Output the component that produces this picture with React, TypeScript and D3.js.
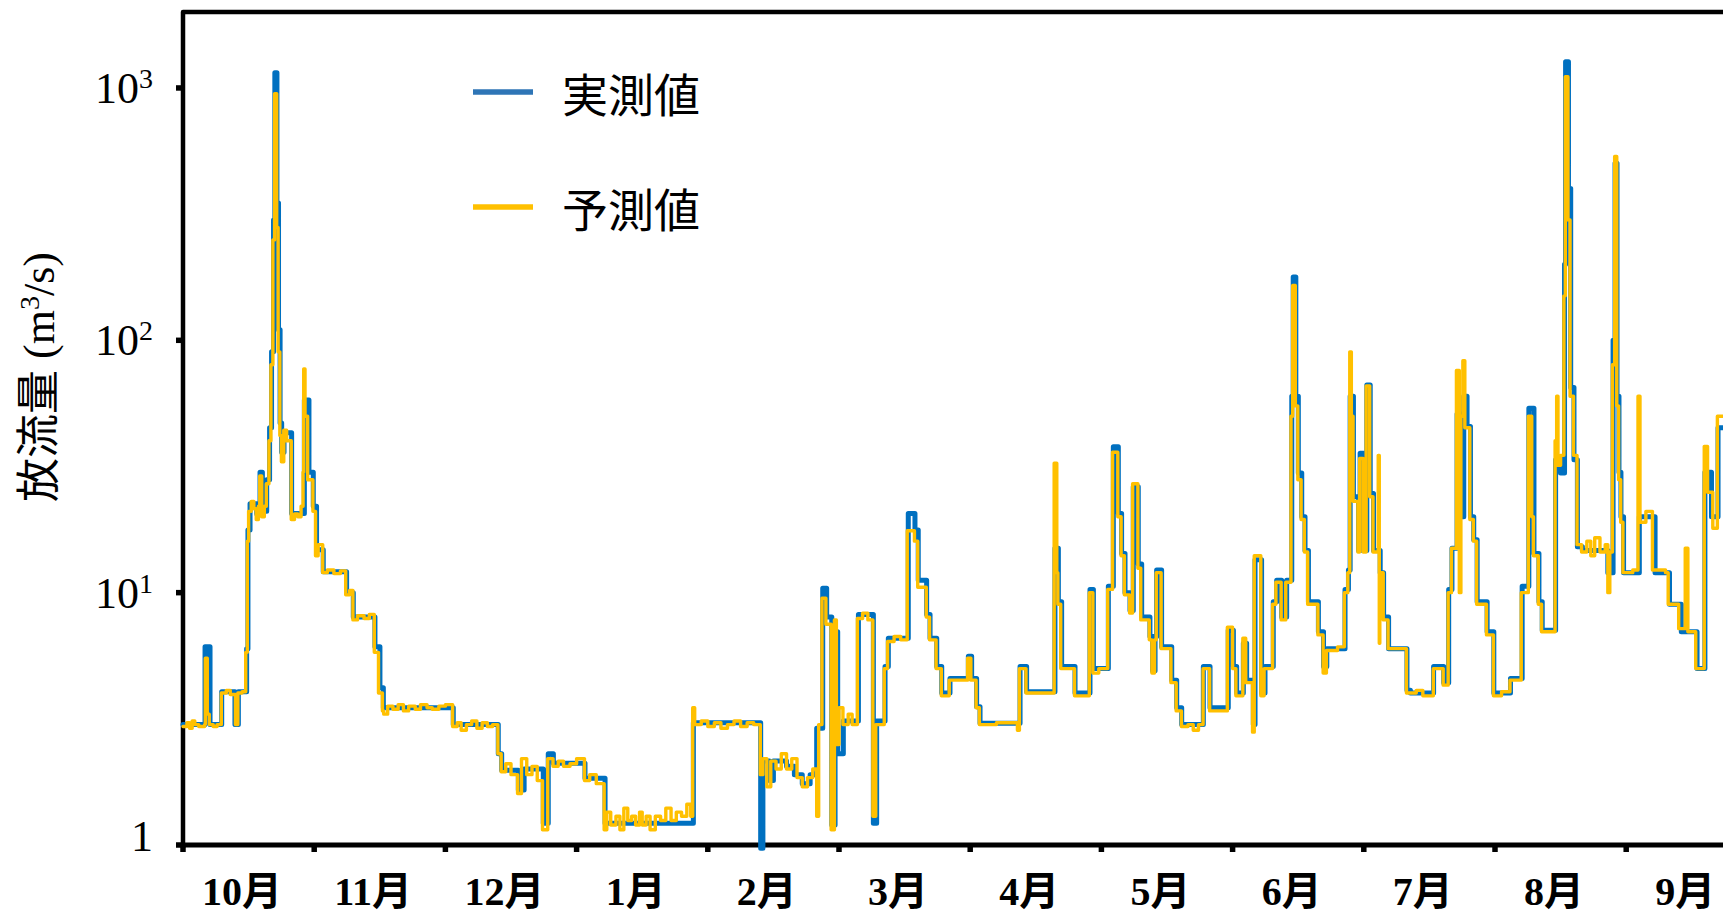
import React, { useRef, useEffect } from "react";
import * as d3 from "d3";

// x is in months since 1 Oct (0 = 10月 start), y in m3/s; step series
const monthLabels = ["10月", "11月", "12月", "1月", "2月", "3月", "4月", "5月", "6月", "7月", "8月", "9月"];
const yTickValues = [1, 10, 100, 1000];

const observed: [number, number][] = [
  [0.0, 3.0], [0.168, 6.1], [0.206, 3.0], [0.295, 4.05], [0.396, 3.0], [0.422, 4.05], [0.485, 6.0],
  [0.495, 17.7], [0.511, 22.5], [0.562, 20.5], [0.587, 30], [0.605, 21], [0.638, 28], [0.66, 45],
  [0.675, 90], [0.69, 300], [0.7, 1150], [0.716, 350], [0.728, 110], [0.74, 47], [0.752, 36],
  [0.77, 43], [0.828, 20.6], [0.925, 58], [0.96, 30], [0.993, 22], [1.018, 14.8], [1.069, 12.1],
  [1.247, 10], [1.298, 8.0], [1.463, 6.1], [1.501, 4.2], [1.527, 3.5], [2.06, 3.0], [2.403, 2.3],
  [2.429, 1.98], [2.556, 1.65], [2.6, 2.0], [2.746, 1.22], [2.784, 2.3], [2.823, 2.11], [3.064, 1.84],
  [3.217, 1.22], [3.89, 3.05], [4.403, 0.97], [4.42, 2.15], [4.47, 1.8], [4.5, 2.15], [4.6, 2.05],
  [4.66, 1.9], [4.72, 1.75], [4.78, 1.9], [4.83, 2.9], [4.876, 10.4], [4.906, 8.0], [4.945, 1.2],
  [4.97, 7.0], [4.99, 2.3], [5.033, 3.1], [5.148, 8.2], [5.262, 1.22], [5.287, 3.1], [5.351, 5.1],
  [5.376, 6.6], [5.528, 20.6], [5.579, 17.7], [5.604, 11.2], [5.668, 8.2], [5.694, 6.6], [5.745, 5.1],
  [5.783, 4.0], [5.846, 4.57], [5.986, 5.6], [6.011, 4.57], [6.049, 3.53], [6.075, 3.04], [6.38, 5.1],
  [6.43, 4.05], [6.646, 15], [6.672, 9.2], [6.697, 5.1], [6.799, 4.0], [6.913, 10.3], [6.939, 5.0],
  [7.053, 10.6], [7.091, 37.9], [7.129, 20.6], [7.154, 14.3], [7.18, 10], [7.218, 8.5], [7.243, 26.3],
  [7.281, 13], [7.307, 8.0], [7.37, 6.7], [7.39, 4.9], [7.409, 6.7], [7.421, 12.3], [7.459, 6.1],
  [7.536, 4.5], [7.574, 3.5], [7.612, 3.0], [7.777, 5.1], [7.828, 3.5], [7.967, 7.1], [8.006, 5.1],
  [8.031, 4.0], [8.082, 6.3], [8.107, 4.5], [8.158, 3.0], [8.171, 13.5], [8.221, 4.0], [8.247, 5.1],
  [8.31, 9.2], [8.336, 11.2], [8.374, 8.0], [8.412, 11.2], [8.451, 60], [8.462, 178], [8.482, 60],
  [8.501, 29.8], [8.527, 20], [8.552, 14.7], [8.578, 9.2], [8.654, 7.0], [8.693, 5.1], [8.718, 6.0],
  [8.857, 10.3], [8.883, 12.3], [8.896, 60], [8.921, 24], [8.96, 14.7], [8.972, 35.7], [8.998, 14.7],
  [9.023, 66.5], [9.049, 24.7], [9.074, 14.7], [9.125, 12], [9.151, 8.0], [9.189, 6.0], [9.329, 4.1],
  [9.355, 4.0], [9.532, 5.1], [9.609, 4.4], [9.647, 10.3], [9.672, 15], [9.711, 51], [9.749, 20],
  [9.762, 60], [9.787, 45.5], [9.813, 20], [9.838, 16.2], [9.864, 9.2], [9.94, 7.0], [9.991, 4.0],
  [10.118, 4.57], [10.207, 10.6], [10.258, 53.8], [10.297, 14.3], [10.335, 9.2], [10.36, 7.1],
  [10.462, 33.6], [10.5, 29.8], [10.53, 200], [10.538, 1270], [10.56, 400], [10.577, 65], [10.602, 33.6],
  [10.628, 15.2], [10.666, 14.7], [10.86, 12], [10.9, 100], [10.915, 503], [10.93, 60], [10.945, 30],
  [10.96, 20], [10.98, 12], [11.1, 20], [11.22, 12], [11.33, 9], [11.42, 7], [11.54, 5], [11.6, 30],
  [11.65, 20], [11.7, 45], [11.8, 45],
];

const predicted: [number, number][] = [
  [0.0, 2.95], [0.03, 3.05], [0.05, 2.9], [0.07, 3.1], [0.09, 3.0], [0.12, 2.95], [0.165, 3.0],
  [0.17, 5.5], [0.185, 3.3], [0.2, 3.0], [0.23, 2.95], [0.26, 3.0], [0.292, 4.0], [0.33, 4.1],
  [0.36, 3.95], [0.4, 3.0], [0.418, 4.0], [0.45, 4.05], [0.478, 5.8], [0.49, 16], [0.5, 21], [0.52, 23],
  [0.54, 21.5], [0.558, 19.5], [0.575, 22], [0.585, 29], [0.6, 20], [0.62, 22], [0.635, 27], [0.655, 40],
  [0.67, 80], [0.685, 250], [0.698, 950], [0.714, 280], [0.725, 90], [0.738, 42], [0.75, 33], [0.768, 44],
  [0.79, 40], [0.825, 19.5], [0.85, 20.5], [0.875, 20], [0.9, 22], [0.915, 30], [0.92, 77], [0.93, 50],
  [0.95, 28], [0.99, 21], [1.01, 14], [1.03, 15.5], [1.065, 12], [1.1, 12.3], [1.15, 11.9], [1.2, 12.2],
  [1.24, 9.8], [1.27, 10.2], [1.295, 7.8], [1.33, 8.1], [1.38, 7.9], [1.42, 8.2], [1.458, 5.8], [1.49, 4.0],
  [1.52, 3.4], [1.53, 3.3], [1.56, 3.55], [1.6, 3.45], [1.64, 3.6], [1.68, 3.4], [1.72, 3.55], [1.77, 3.45],
  [1.81, 3.6], [1.86, 3.5], [1.9, 3.45], [1.95, 3.55], [2.0, 3.6], [2.055, 2.95], [2.09, 3.05], [2.12, 2.85],
  [2.16, 3.0], [2.2, 3.1], [2.24, 2.9], [2.28, 3.05], [2.32, 2.95], [2.36, 3.0], [2.4, 2.3], [2.425, 1.95],
  [2.46, 2.1], [2.5, 1.9], [2.55, 1.6], [2.58, 2.2], [2.62, 1.9], [2.66, 2.05], [2.7, 1.8], [2.74, 1.15],
  [2.78, 2.2], [2.82, 2.05], [2.86, 2.15], [2.9, 2.05], [2.95, 2.1], [3.0, 2.2], [3.06, 1.8], [3.1, 1.9],
  [3.15, 1.75], [3.21, 1.15], [3.23, 1.35], [3.26, 1.2], [3.3, 1.3], [3.33, 1.15], [3.36, 1.4], [3.39, 1.25],
  [3.42, 1.3], [3.45, 1.2], [3.48, 1.35], [3.5, 1.2], [3.53, 1.3], [3.56, 1.15], [3.6, 1.3], [3.64, 1.25],
  [3.68, 1.4], [3.72, 1.25], [3.76, 1.35], [3.8, 1.3], [3.84, 1.45], [3.87, 1.3], [3.885, 3.5], [3.9, 3.0],
  [3.95, 3.1], [4.0, 2.95], [4.05, 3.05], [4.1, 2.9], [4.15, 3.0], [4.2, 3.1], [4.25, 2.95], [4.3, 3.05],
  [4.35, 3.0], [4.4, 1.9], [4.42, 2.2], [4.45, 1.7], [4.48, 2.15], [4.52, 2.0], [4.56, 2.3], [4.6, 2.0],
  [4.64, 2.2], [4.68, 1.85], [4.72, 1.7], [4.76, 1.85], [4.8, 2.0], [4.83, 1.3], [4.845, 3.0], [4.87, 9.5],
  [4.9, 7.5], [4.94, 1.15], [4.965, 7.8], [4.98, 2.5], [5.0, 3.5], [5.03, 3.0], [5.07, 3.3], [5.1, 3.0],
  [5.14, 7.9], [5.18, 8.3], [5.22, 7.8], [5.258, 1.3], [5.28, 3.0], [5.345, 5.0], [5.37, 6.4], [5.42, 6.7],
  [5.47, 6.5], [5.52, 17.6], [5.575, 16], [5.6, 10.5], [5.665, 8], [5.69, 6.5], [5.74, 5.0], [5.78, 3.9],
  [5.84, 4.5], [5.98, 5.5], [6.005, 4.5], [6.045, 3.5], [6.07, 3.0], [6.2, 3.05], [6.36, 2.85], [6.375, 5.0],
  [6.425, 4.0], [6.64, 32.6], [6.66, 12], [6.668, 9.0], [6.69, 5.0], [6.795, 3.9], [6.908, 10], [6.935, 4.8],
  [6.98, 5.0], [7.048, 10.3], [7.085, 36], [7.125, 20], [7.15, 14], [7.175, 9.8], [7.215, 8.3], [7.238, 27],
  [7.278, 12.5], [7.3, 7.8], [7.365, 6.5], [7.385, 4.8], [7.405, 6.5], [7.418, 12], [7.455, 6.0], [7.53, 4.4],
  [7.57, 3.4], [7.61, 2.95], [7.66, 3.0], [7.7, 2.85], [7.74, 3.0], [7.775, 5.0], [7.825, 3.4], [7.96, 7.3],
  [8.0, 5.0], [8.025, 3.9], [8.078, 6.6], [8.1, 4.4], [8.152, 2.8], [8.165, 14], [8.215, 3.9], [8.24, 5.0],
  [8.305, 9.0], [8.33, 11], [8.37, 7.8], [8.405, 11], [8.445, 50], [8.458, 165], [8.478, 55], [8.497, 28],
  [8.522, 19.5], [8.547, 14.5], [8.572, 9.0], [8.65, 6.8], [8.69, 4.8], [8.715, 5.9], [8.8, 6.1], [8.852, 10],
  [8.878, 12], [8.893, 90], [8.905, 50], [8.918, 23], [8.955, 14.5], [8.968, 34], [8.995, 14.5], [9.018, 66],
  [9.045, 24], [9.07, 14.5], [9.11, 35], [9.118, 6.3], [9.122, 12], [9.148, 7.8], [9.185, 6.0], [9.325, 4.0],
  [9.4, 4.1], [9.45, 3.9], [9.53, 5.0], [9.605, 4.3], [9.643, 10], [9.668, 15], [9.706, 76], [9.728, 10],
  [9.74, 50], [9.755, 83], [9.77, 45], [9.808, 19.5], [9.835, 16], [9.86, 9.0], [9.935, 6.8], [9.988, 3.9],
  [10.05, 4.05], [10.114, 4.5], [10.2, 10], [10.254, 50], [10.28, 20], [10.293, 14], [10.33, 9.0],
  [10.355, 7.0], [10.458, 40], [10.47, 60], [10.48, 32], [10.5, 35], [10.525, 150], [10.536, 1109],
  [10.556, 300], [10.572, 60], [10.598, 35], [10.625, 15.5], [10.66, 14.5], [10.7, 16], [10.73, 14],
  [10.76, 16.5], [10.8, 14.5], [10.84, 15.5], [10.86, 10], [10.875, 14.5], [10.895, 80], [10.912, 535],
  [10.928, 55], [10.942, 28], [10.958, 19], [10.975, 12], [11.05, 12.3], [11.09, 60], [11.105, 19],
  [11.15, 21], [11.2, 12.3], [11.3, 12], [11.32, 9], [11.4, 7.2], [11.45, 15], [11.47, 7], [11.53, 5.0],
  [11.595, 38], [11.62, 25], [11.66, 18], [11.695, 50], [11.8, 45],
];

const legendItems = [
  { label: "実測値", color: "#2E75B6" },
  { label: "予測値", color: "#FFC000" },
];

const SERIF = "'Liberation Serif', 'Times New Roman', serif";
const CJK = "'Noto Sans CJK JP', sans-serif";

const App = () => {
  const svgRef = useRef<SVGSVGElement>(null);

  useEffect(() => {
    if (!svgRef.current) return;
    const W = 1723, H = 913;
    const left = 183, top = 12, bottom = 845;
    const step = 131.2;

    const svg = d3.select(svgRef.current);
    svg.selectAll("*").remove();
    svg.attr("width", W).attr("height", H);

    const x = d3.scaleLinear().domain([0, 12]).range([left, left + step * 12]);
    const y = d3.scaleLog().domain([1, 2000]).range([bottom, top]);

    // frame
    svg.append("path")
      .attr("d", `M${W},${top} H${left} V${bottom + 3}`)
      .attr("fill", "none").attr("stroke", "black").attr("stroke-width", 4.5)
      .attr("stroke-linejoin", "round");
    svg.append("line")
      .attr("x1", left - 2).attr("x2", W).attr("y1", bottom).attr("y2", bottom)
      .attr("stroke", "black").attr("stroke-width", 5);

    // y ticks
    yTickValues.forEach(v => {
      svg.append("line")
        .attr("x1", left - 7).attr("x2", left).attr("y1", y(v)).attr("y2", y(v))
        .attr("stroke", "black").attr("stroke-width", 5.5);
      const exp = Math.round(Math.log10(v));
      const t = svg.append("text")
        .attr("x", 153).attr("y", y(v) + (exp === 0 ? 6 : 15))
        .attr("text-anchor", "end")
        .style("font-family", SERIF).style("font-size", "44px");
      if (exp === 0) {
        t.text("1");
      } else {
        t.append("tspan").text("10");
        t.append("tspan").attr("dy", -15).style("font-size", "28px").text(String(exp));
      }
    });

    // x ticks + month labels
    monthLabels.forEach((m, i) => {
      svg.append("line")
        .attr("x1", x(i)).attr("x2", x(i)).attr("y1", bottom).attr("y2", bottom + 7)
        .attr("stroke", "black").attr("stroke-width", 5.5);
      svg.append("text")
        .attr("x", x(i + 0.45)).attr("y", 905)
        .attr("text-anchor", "middle")
        .style("font-family", `'Liberation Serif', ${CJK}`)
        .style("font-weight", "bold").style("font-size", "40px")
        .text(m);
    });

    // y title
    const title = svg.append("text")
      .attr("transform", "translate(54,377) rotate(-90)")
      .attr("text-anchor", "middle")
      .style("font-size", "44px");
    title.append("tspan").style("font-family", CJK).text("放流量");
    title.append("tspan").style("font-family", SERIF).text(" (m");
    title.append("tspan").style("font-family", SERIF).style("font-size", "28px").attr("dy", -15).text("3");
    title.append("tspan").style("font-family", SERIF).attr("dy", 15).text("/s)");

    // data
    svg.append("clipPath").attr("id", "plot-clip")
      .append("rect").attr("x", left - 3).attr("y", 0).attr("width", W - left + 3).attr("height", H);

    const line = d3.line<[number, number]>()
      .x(d => x(d[0]))
      .y(d => y(d[1]))
      .curve(d3.curveStepAfter);

    const g = svg.append("g").attr("clip-path", "url(#plot-clip)");
    g.append("path")
      .datum(observed)
      .attr("fill", "none").attr("stroke", "#0070C0").attr("stroke-width", 5)
      .attr("stroke-linejoin", "round").attr("stroke-linecap", "round")
      .attr("d", line);
    g.append("path")
      .datum(predicted)
      .attr("fill", "none").attr("stroke", "#FFC000").attr("stroke-width", 3.4)
      .attr("stroke-linejoin", "round").attr("stroke-linecap", "round")
      .attr("d", line);

    // legend
    legendItems.forEach((d, i) => {
      const ly = 92 + i * 115;
      svg.append("line")
        .attr("x1", 473).attr("x2", 533).attr("y1", ly).attr("y2", ly)
        .attr("stroke", d.color).attr("stroke-width", 5.5);
      svg.append("text")
        .attr("x", 562).attr("y", ly)
        .attr("dominant-baseline", "central")
        .style("font-family", CJK).style("font-size", "46px")
        .text(d.label);
    });
  }, []);

  return (
    <div style={{ position: "absolute", left: 0, top: 0, background: "white" }}>
      <svg ref={svgRef} style={{ display: "block" }}></svg>
    </div>
  );
};

export default App;
